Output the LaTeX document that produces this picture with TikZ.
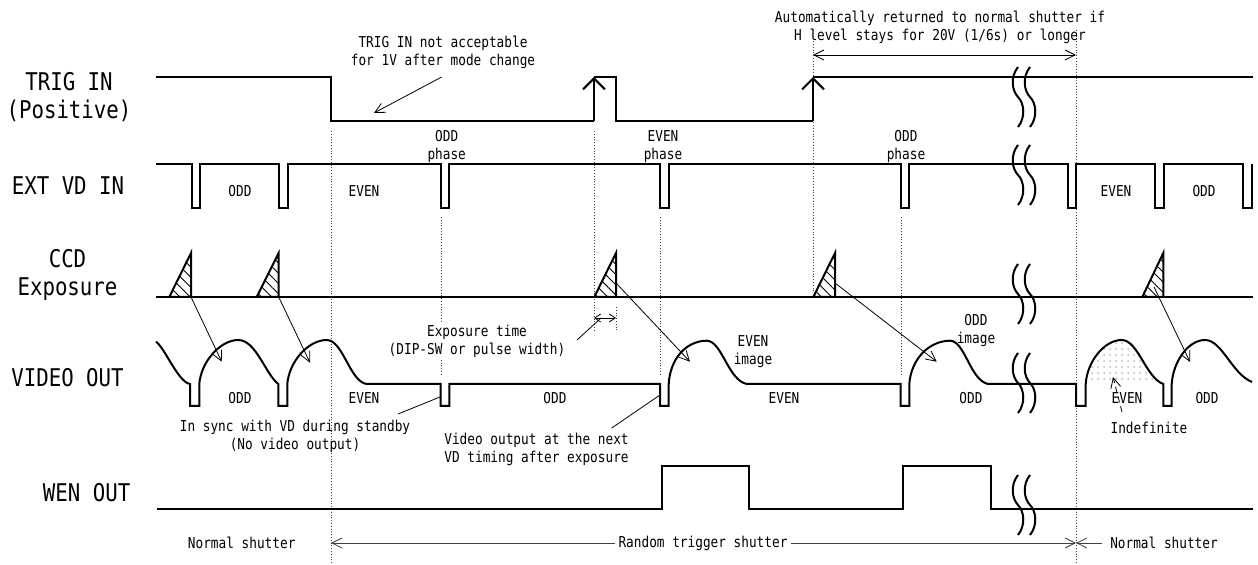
\documentclass[tikz,border=0pt]{standalone}
\usepackage{fontspec}
\setmainfont{DejaVu Sans Mono}[FakeStretch=0.85]
\usetikzlibrary{arrows.meta,patterns,patterns.meta}
\tikzset{
  sig/.style={line width=1pt, line join=miter},
  guide/.style={densely dotted, line width=0.4pt, black!75},
  ptr/.style={-{Straight Barb[length=5pt,width=5pt]}, line width=0.4pt},
  dimar/.style={{Straight Barb[length=5pt,width=5pt]}-{Straight Barb[length=5pt,width=5pt]}, line width=0.4pt},
  smalldim/.style={{Straight Barb[length=3pt,width=4pt]}-{Straight Barb[length=3pt,width=4pt]}, line width=0.4pt},
  lead/.style={line width=0.4pt},
  uparr/.style={-{Straight Barb[length=5.5pt,width=11pt]}, line width=1pt},
  bigl/.style={font=\fontsize{12.2}{14.25}\selectfont, align=center, inner sep=0pt},
  note/.style={font=\fontsize{7.5}{9}\selectfont, align=center, inner sep=1pt},
  hatchtri/.style={line width=1pt, pattern={Lines[angle=-45, distance=3.6pt, line width=0.45pt]}},
  brkline/.style={line width=1pt}
}
\begin{document}
\begin{tikzpicture}[x=0.5pt, y=-0.5pt]
\useasboundingbox (0,0) rectangle (1258,565);

% row labels
\node[bigl] (lTrig) at (69,97) {TRIG IN\\(Positive)};
\node[bigl] (lVd) at (68,186) {EXT VD IN};
\node[bigl] (lCcd) at (67.5,275) {CCD\\Exposure};
\node[bigl] (lVideo) at (67.5,378) {VIDEO OUT};
\node[bigl] (lWen) at (86.7,493) {WEN OUT};

% guide lines
\draw[guide] (331,131) -- (331,565);
\draw[guide] (594,131) -- (594,332);
\draw[guide] (616,307) -- (616,332);
\draw[guide] (441,217) -- (441,375);
\draw[guide] (660,217) -- (660,375);
\draw[guide] (813,30) -- (813,293);
\draw[guide] (901,217) -- (901,375);
\draw[guide] (1076,30) -- (1076,565);

% TRIG IN
\draw[sig] (156,77) -- (331,77) -- (331,121) -- (594,121);
\draw[uparr] (594,121) -- (594,77);
\draw[sig] (594,77) -- (616,77) -- (616,121) -- (813,121);
\draw[uparr] (813,121) -- (813,77);
\draw[sig] (813,77) -- (1253,77);

% EXT VD IN
\draw[sig] (156,164) \foreach \p in {191.7,279.3,440.7,660,900.7,1067.7,1155,1243.3}
  { -- (\p,164) -- (\p,208) -- (\p+8.5,208) -- (\p+8.5,164) };
\node[note] (vOdd1) at (240,191) {ODD};
\node[note] (vEven1) at (364,191) {EVEN};
\node[note] (vOddPh) at (446.7,147) {ODD\\phase};
\node[note] (vEvenPh) at (663,147) {EVEN\\phase};
\node[note] (vOddPh2) at (906,147) {ODD\\phase};
\node[note] (vEven2) at (1116,191) {EVEN};
\node[note] (vOdd2) at (1204,191) {ODD};

% CCD exposure
\draw[sig] (156,297) -- (1253,297);
\foreach \l/\r in {169.3/191, 256.7/278.7, 594.3/616, 813.3/835, 1142.3/1163.3}
  \draw[hatchtri] (\l,297) -- (\r,253) -- (\r,297) -- cycle;

% VIDEO OUT
\fill[pattern=dots, pattern color=black!28] (1085.7,384)
  .. controls (1087,362) and (1104,340) .. (1121.7,340)
  .. controls (1138,340) and (1146,378) .. (1163.3,384) -- cycle;
\draw[sig] (156,341.7) .. controls (165,348) and (178,382) .. (190,384)
  -- (190,406) -- (199.3,406) -- (199.3,384)
  .. controls (201,362) and (220,340) .. (238.3,340)
  .. controls (256,340) and (266,375) .. (278.3,384)
  -- (278.3,406) -- (287.3,406) -- (287.3,384)
  .. controls (289,362) and (308,340) .. (326.7,340)
  .. controls (343,340) and (350,382) .. (366.7,384)
  -- (440.7,384) -- (440.7,406) -- (449.3,406) -- (449.3,384)
  -- (660,384) -- (660,406) -- (668.7,406) -- (668.7,384)
  .. controls (670,360) and (685,341) .. (706.7,340.7)
  .. controls (722,341) and (728,380) .. (746.7,384)
  -- (900.7,384) -- (900.7,406) -- (909.3,406) -- (909.3,384)
  .. controls (911,360) and (928,341) .. (950,340.7)
  .. controls (965,341) and (970,380) .. (988,384)
  -- (1076,384) -- (1076,406) -- (1085.7,406) -- (1085.7,384)
  .. controls (1087,362) and (1104,340) .. (1121.7,340)
  .. controls (1138,340) and (1146,378) .. (1163.3,384)
  -- (1163.3,406) -- (1171.7,406) -- (1171.7,384)
  .. controls (1173,362) and (1188,340) .. (1205,340)
  .. controls (1222,340) and (1232,374) .. (1252,382);
\node[note] (oOdd1) at (240,398) {ODD};
\node[note] (oEven1) at (364,398) {EVEN};
\node[note] (oOdd2) at (555,398) {ODD};
\node[note] (oEven2) at (784,398) {EVEN};
\node[note] (oOdd3) at (971,398) {ODD};
\node[note] (oEven3) at (1127,398) {EVEN};
\node[note] (oOdd4) at (1207,398) {ODD};
\node[note] (evenImg) at (753,352) {EVEN\\image};
\node[note] (oddImg) at (976,331) {ODD\\image};

% WEN OUT
\draw[sig] (157,509) -- (662.3,509) -- (662.3,465.7) -- (749.3,465.7) -- (749.3,509)
  -- (902.7,509) -- (902.7,465.7) -- (991,465.7) -- (991,509) -- (1253,509);

% exposure to video arrows
\coordinate (c1s) at (191,297);    \coordinate (c1e) at (221.7,361.7);
\coordinate (c2s) at (278.7,297);  \coordinate (c2e) at (310,362.7);
\coordinate (c3s) at (616,283);    \coordinate (c3e) at (690,361.7);
\coordinate (c4s) at (835,283);    \coordinate (c4e) at (936.7,361.7);
\coordinate (c5s) at (1154,287);   \coordinate (c5e) at (1190,362);
\foreach \k in {1,...,5}
  \draw[ptr] (c\k s) -- (c\k e);

% break marks
\foreach \cy in {97,175,294,383,505}
  \foreach \dx in {0,12}
    \draw[brkline] (1018+\dx,\cy-30) .. controls (1010+\dx,\cy-20) and (1012+\dx,\cy-6) .. (1018+\dx,\cy)
      .. controls (1024+\dx,\cy+6) and (1026+\dx,\cy+20) .. (1018+\dx,\cy+30);

% notes and leaders
\node[note] (tNotAcc) at (443,52) {TRIG IN not acceptable\\for 1V after mode change};
\coordinate (naFrom) at (441.7,77);
\coordinate (naTo) at (374,113);
\draw[ptr] (naFrom) -- (naTo);

\node[note] (tAuto) at (940,27) {Automatically returned to normal shutter if\\H level stays for 20V (1/6s) or longer};
\coordinate (auL) at (813,55);
\coordinate (auR) at (1076,55);
\draw[dimar] (auL) -- (auR);

\node[note, fill=white] (tExp) at (477,341) {Exposure time\\(DIP-SW or pulse width)};
\coordinate (exL) at (594,318);
\coordinate (exR) at (616,318);
\coordinate (exLead) at (577,340);
\coordinate (exHit) at (601,318);
\draw[smalldim] (exL) -- (exR);
\draw[lead] (exLead) -- (exHit);

\node[note] (tSync) at (295,436) {In sync with VD during standby\\(No video output)};
\coordinate (syFrom) at (398,414);
\coordinate (syTo) at (440,397);
\draw[lead] (syFrom) -- (syTo);

\node[note, align=left] (tNext) at (536.5,449.5) {Video output at the next\\VD timing after exposure};
\coordinate (nxFrom) at (611.7,428);
\coordinate (nxTo) at (660,395);
\draw[lead] (nxFrom) -- (nxTo);

\node[note] (tIndef) at (1149,428) {Indefinite};
\coordinate (inFrom) at (1122,412);
\coordinate (inTo) at (1113,377);
\draw[ptr, densely dashed] (inFrom) -- (inTo);

% shutter modes
\coordinate (smL) at (331,543);
\coordinate (smR) at (1076,543);
\coordinate (smN) at (1102,543);
\draw[dimar, black!75] (smL) -- (smR);
\draw[ptr, black!75] (smN) -- (smR);
\node[note] (tNorm1) at (241.7,543) {Normal shutter};
\node[note, fill=white, inner xsep=2pt] (tRand) at (703,543) {Random trigger shutter};
\node[note] (tNorm2) at (1164,543) {Normal shutter};
\end{tikzpicture}
\end{document}
